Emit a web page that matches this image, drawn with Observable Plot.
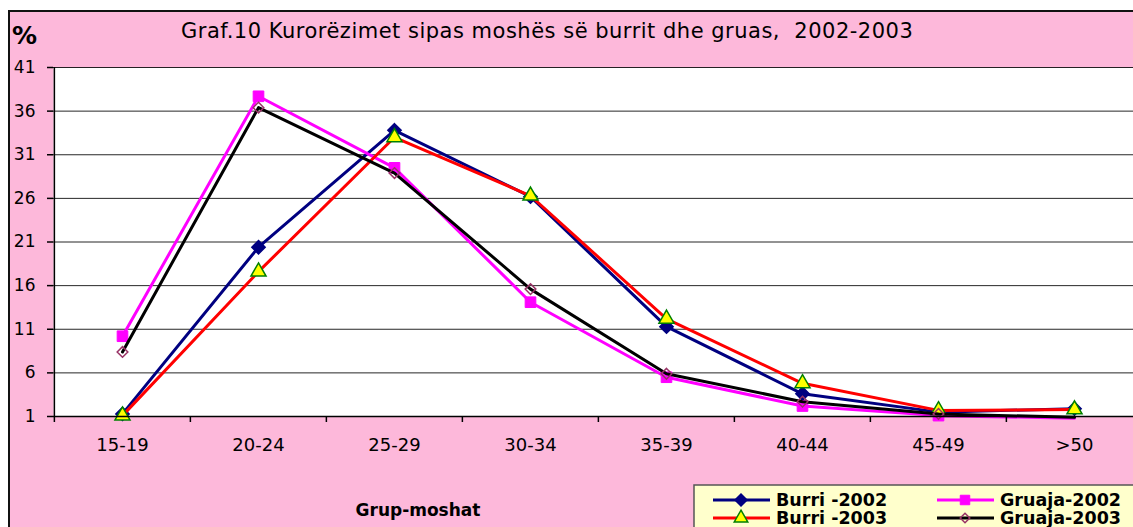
<!DOCTYPE html>
<html>
<head>
<meta charset="utf-8">
<script src="https://cdn.jsdelivr.net/npm/d3@7"></script>
<script src="https://cdn.jsdelivr.net/npm/@observablehq/plot@0.6"></script>
<style>
  html, body { margin: 0; padding: 0; background: #fff; }
  #wrap { position: relative; width: 1133px; height: 527px; overflow: hidden; background: #fff; }
  #panel { position: absolute; left: 8px; top: 10px; width: 1200px; height: 600px;
           background: #FDB8DA; border-left: 2px solid #111; border-top: 2px solid #111; }
  #chart { position: absolute; left: 0; top: 0; }
  #overlay { position: absolute; left: 0; top: 0; }
</style>
</head>
<body>
<div id="wrap">
  <div id="panel"></div>
  <div id="chart"></div>
  <svg id="overlay" width="1133" height="527"></svg>
</div>
<script>
// ---- data ----
const categories = ["15-19", "20-24", "25-29", "30-34", "35-39", "40-44", "45-49", ">50"];
const burri2002  = [1.3, 20.4, 33.8, 26.2, 11.3, 3.6, 1.5, 1.9];
const gruaja2002 = [10.2, 37.7, 29.5, 14.1, 5.5, 2.2, 1.1, 0.8];
const burri2003  = [1.1, 17.6, 33.0, 26.3, 12.2, 4.8, 1.7, 1.8];
const gruaja2003 = [8.4, 36.4, 28.9, 15.6, 5.9, 2.7, 1.3, 0.9];
const seriesNames = ["Burri -2002", "Gruaja-2002", "Burri -2003", "Gruaja-2003"];
const yTicks = [1, 6, 11, 16, 21, 26, 31, 36, 41];
const titleText = "Graf.10 Kurorëzimet sipas moshës së burrit dhe gruas,  2002-2003";
const yLabelText = "%";
const xLabelText = "Grup-moshat";

const seriesValues = [burri2002, gruaja2002, burri2003, gruaja2003];
const styles = [
  {line: "#000080", symbol: "diamond2", fill: "#000080", stroke: "#000080", r: 6.0, sw: 1.5},
  {line: "#FF00FF", symbol: "square",   fill: "#FF00FF", stroke: "#FF00FF", r: 6.0, sw: 1},
  {line: "#FF0000", symbol: "triangle", fill: "#FFFF00", stroke: "#008000", r: 5.6, sw: 1.5},
  {line: "#000000", symbol: "diamond2", fill: "none",    stroke: "#993366", r: 4.8, sw: 1.5}
];

const rows = [];
seriesNames.forEach((s, i) => categories.forEach((c, j) => {
  const v = seriesValues[i][j];
  if (v != null) rows.push({series: s, cat: c, value: v});
}));

const W = 1133, H = 527;
const xRange = [53, 1143];
const step = (xRange[1] - xRange[0]) / categories.length;
const font = "DejaVu Sans, Liberation Sans, sans-serif";

const marks = [
  Plot.frame({fill: "white", stroke: null}),
  Plot.gridY(yTicks, {stroke: "#000", strokeOpacity: 0.85, strokeWidth: 1})
];
seriesNames.forEach((s, i) => {
  const st = styles[i];
  const data = rows.filter(d => d.series === s);
  marks.push(Plot.line(data, {x: "cat", y: "value", stroke: st.line, strokeWidth: 3}));
  marks.push(Plot.dot(data.filter(d => d.value >= 1), {
    x: "cat", y: "value", symbol: () => st.symbol, r: st.r,
    fill: st.fill, stroke: st.stroke, strokeWidth: st.sw
  }));
});
marks.push(
  Plot.ruleY([1], {stroke: "#000", strokeWidth: 1.5}),
  Plot.ruleX([categories[0]], {y1: 1, y2: 41, dx: -step / 2, stroke: "#000", strokeWidth: 1.5}),
  Plot.axisY(yTicks, {anchor: "left", tickSize: 6, tickPadding: 12, fontSize: 17,
                      stroke: "#000", strokeWidth: 1.5, fill: "#000", label: null}),
  Plot.axisX(categories, {anchor: "bottom", tickSize: 0, tickPadding: 22, fontSize: 18,
                          fill: "#000", label: null}),
  Plot.axisX(categories, {anchor: "bottom", tickSize: 6, dx: -step / 2, tickFormat: () => "",
                          stroke: "#000", strokeWidth: 1.5, label: null})
);

const chart = Plot.plot({
  width: W, height: H,
  marginLeft: 53, marginRight: 0, marginTop: 67, marginBottom: 111,
  style: {background: "transparent", fontFamily: font, color: "#000", overflow: "visible"},
  x: {type: "point", domain: categories, range: xRange, padding: 0.5, label: null},
  y: {domain: [1, 41], label: null},
  symbol: {type: "identity"},
  marks
});
document.getElementById("chart").appendChild(chart);

// ---- titles & legend overlay ----
const ov = d3.select("#overlay");
ov.append("text").attr("x", 181).attr("y", 38)
  .attr("font-family", font).attr("font-size", 21).attr("letter-spacing", 0.5)
  .attr("fill", "#000").style("white-space", "pre").text(titleText);
ov.append("text").attr("x", 12).attr("y", 44)
  .attr("font-family", font).attr("font-size", 25).attr("font-weight", "bold")
  .attr("fill", "#000").text(yLabelText);
ov.append("text").attr("x", 418).attr("y", 516).attr("text-anchor", "middle")
  .attr("font-family", font).attr("font-size", 17).attr("font-weight", "bold")
  .attr("fill", "#000").text(xLabelText);

ov.append("rect").attr("x", 694).attr("y", 485).attr("width", 480).attr("height", 80)
  .attr("fill", "#FFFFCC").attr("stroke", "#555").attr("stroke-width", 1.5);
const cols = [713, 937], rowsY = [500, 518];
const symMap = {diamond2: d3.symbolDiamond2, square: d3.symbolSquare, triangle: d3.symbolTriangle};
seriesNames.forEach((s, i) => {
  const st = styles[i];
  const x0 = cols[i % 2], y0 = rowsY[Math.floor(i / 2)];
  const g = ov.append("g");
  g.append("line").attr("x1", x0).attr("x2", x0 + 57).attr("y1", y0).attr("y2", y0)
    .attr("stroke", st.line).attr("stroke-width", 3);
  g.append("path").attr("transform", `translate(${x0 + 28},${y0})`)
    .attr("d", d3.symbol(symMap[st.symbol], Math.PI * st.r * st.r * 0.8)())
    .attr("fill", st.fill).attr("stroke", st.stroke).attr("stroke-width", st.sw);
  g.append("text").attr("x", x0 + 63).attr("y", y0 + 6)
    .attr("font-family", font).attr("font-size", 17.5).attr("font-weight", "bold")
    .attr("fill", "#000").text(s);
});
</script>
</body>
</html>
